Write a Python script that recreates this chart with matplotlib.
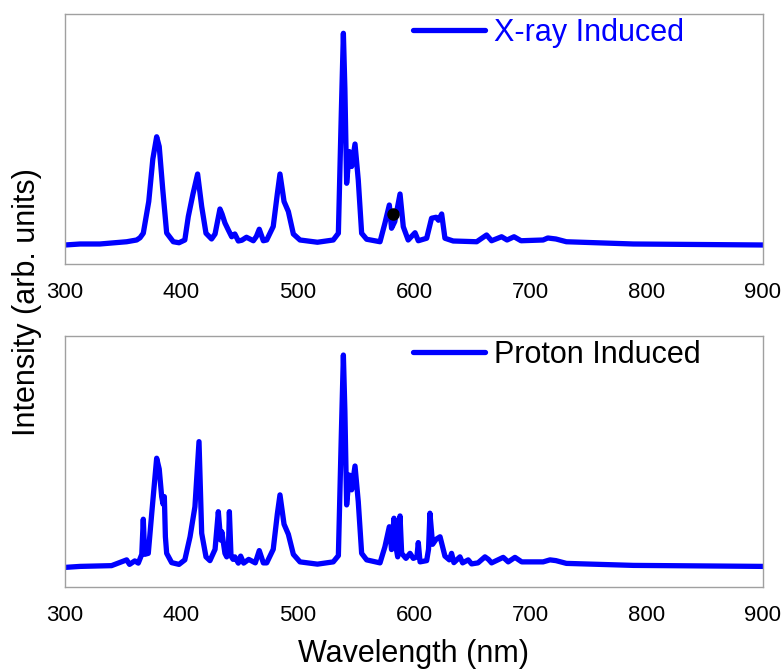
import numpy as np
import matplotlib
matplotlib.use("Agg")
import matplotlib.pyplot as plt

plt.rcParams['font.family'] = ['Liberation Sans', 'DejaVu Sans']

# X-ray induced spectrum (wavelength nm, intensity arb.)
xray_wl = [300, 313, 330, 353, 361.6, 364.5, 367.3, 372, 375.5, 378.8, 381, 384, 387.4, 393.1,
           398, 403, 406, 410, 414.0, 417.5, 421.2, 426, 429, 433.2, 435, 437.5, 440.4, 443.3,
           446, 449, 452, 456, 461.9, 464.5, 467, 470.5, 473.4, 479, 482.5, 484.8, 488.3, 492,
           496.3, 502, 517, 530.6, 535, 537.5, 539.3, 540.6, 542.1, 544.4, 546.4, 549.3, 552.1,
           555, 559.3, 570.8, 575, 578.8, 580.7, 583.5, 588, 590.8, 595, 600.9, 603.7, 610.9,
           615.1, 619, 621, 623.8, 626.6, 633.7, 653.9, 662.4, 666.7, 675.3, 680, 686, 692,
           711, 715, 722, 731, 788.5, 900]
xray_int = [0.076, 0.08, 0.08, 0.089, 0.096, 0.105, 0.123, 0.25, 0.42, 0.509, 0.47, 0.3, 0.124, 0.089,
            0.085, 0.096, 0.19, 0.28, 0.36, 0.23, 0.123, 0.10, 0.12, 0.22, 0.2, 0.164, 0.136, 0.109,
            0.12, 0.092, 0.095, 0.107, 0.093, 0.11, 0.139, 0.093, 0.096, 0.15, 0.28, 0.36, 0.25, 0.21,
            0.12, 0.096, 0.087, 0.096, 0.123, 0.6, 0.923, 0.7, 0.323, 0.45, 0.39, 0.48, 0.336,
            0.123, 0.099, 0.089, 0.163, 0.236, 0.143, 0.17, 0.28, 0.149, 0.096, 0.125, 0.093, 0.103,
            0.183, 0.187, 0.175, 0.2, 0.103, 0.092, 0.089, 0.116, 0.093, 0.109, 0.096, 0.109, 0.093,
            0.096, 0.104, 0.1, 0.089, 0.08, 0.076]

# Proton induced spectrum
proton_wl = [300, 313, 340, 353, 355.5, 360, 363, 366, 367.3, 368.5, 371.6, 374.5, 378.8, 381,
             383.1, 384.3, 385.4, 386.3, 387.4, 391.7, 398, 403, 407.5, 411.7, 415.2, 417.5, 421.2,
             424.6, 429, 431.8, 433.8, 434.8, 437.5, 439, 440.5, 441.3, 442.7, 444.5, 446, 449,
             451, 453.6, 457.9, 463.6, 467, 470.5, 473.4, 479, 482.5, 484.8, 488.3, 492, 496.3,
             502, 517, 530.6, 535, 537.5, 539.3, 540.6, 542.1, 544.4, 546.4, 549.3, 552.1, 555,
             559.3, 570.8, 575, 578.8, 580.7, 582.8, 584.5, 586, 587, 588, 589.4, 593.1, 596.6,
             599.4, 602.5, 603.7, 605.2, 610.9, 612.5, 613.7, 616, 619, 622.4, 626.6, 630.4, 632.3,
             634.3, 639.5, 641.8, 646.6, 649.5, 655, 661, 664, 666.7, 676.7, 681, 686.8, 692.6,
             711, 716.9, 722, 731, 788.5, 900]
proton_int = [0.078, 0.082, 0.085, 0.108, 0.09, 0.104, 0.095, 0.13, 0.27, 0.13, 0.134, 0.29, 0.513, 0.47,
              0.36, 0.33, 0.36, 0.2, 0.134, 0.097, 0.09, 0.108, 0.2, 0.32, 0.579, 0.214, 0.12,
              0.105, 0.15, 0.30, 0.187, 0.22, 0.134, 0.12, 0.15, 0.30, 0.123, 0.11, 0.12, 0.095,
              0.123, 0.095, 0.11, 0.096, 0.145, 0.096, 0.096, 0.15, 0.29, 0.367, 0.25, 0.21, 0.13,
              0.1, 0.091, 0.1, 0.125, 0.6, 0.924, 0.7, 0.327, 0.446, 0.387, 0.482, 0.34, 0.134,
              0.108, 0.096, 0.16, 0.24, 0.149, 0.274, 0.16, 0.12, 0.2, 0.283, 0.134, 0.114, 0.134,
              0.114, 0.12, 0.177, 0.1, 0.105, 0.15, 0.294, 0.17, 0.19, 0.2, 0.123, 0.108, 0.134,
              0.097, 0.12, 0.096, 0.108, 0.092, 0.096, 0.12, 0.11, 0.096, 0.118, 0.1, 0.118, 0.1,
              0.1, 0.108, 0.105, 0.094, 0.086, 0.082]

# stray black dot on the x-ray curve
dot_wl = [582.2]
dot_int = [0.199]

xticks = [300, 400, 500, 600, 700, 800, 900]

fig = plt.figure(figsize=(7.84, 6.69), dpi=100)
ax1 = fig.add_axes([0.0829, 0.6054, 0.8903, 0.3736])
ax2 = fig.add_axes([0.0829, 0.1226, 0.8903, 0.3752])

line_kw = dict(color='#0000ff', lw=3.8, solid_joinstyle='round', solid_capstyle='round')
ax1.plot(xray_wl, xray_int, label='X-ray Induced', **line_kw)
ax1.plot(dot_wl, dot_int, 'o', color='black', ms=8)
ax2.plot(proton_wl, proton_int, label='Proton Induced', **line_kw)

for ax, tcol in [(ax1, '#0000ff'), (ax2, 'black')]:
    ax.set_xlim(300, 900)
    ax.set_ylim(0, 1)
    ax.set_xticks(xticks)
    ax.set_yticks([])
    ax.tick_params(axis='x', length=0, pad=13, labelsize=16)
    for s in ax.spines.values():
        s.set_color('#a0a0a0')
        s.set_linewidth(1.0)
    leg = ax.legend(loc='center left', bbox_to_anchor=(0.4986, 0.926), frameon=False,
                    fontsize=22, handlelength=2.35, handletextpad=0.3,
                    borderpad=0, borderaxespad=0)
    for t in leg.get_texts():
        t.set_color(tcol)

fig.text(0.035, 1 - 302 / 669, 'Intensity (arb. units)', rotation=90, fontsize=22,
         ha='center', va='center')
fig.text(0.528, 7 / 669, 'Wavelength (nm)', fontsize=22, ha='center', va='baseline')

fig.savefig('out.png', dpi=100)
